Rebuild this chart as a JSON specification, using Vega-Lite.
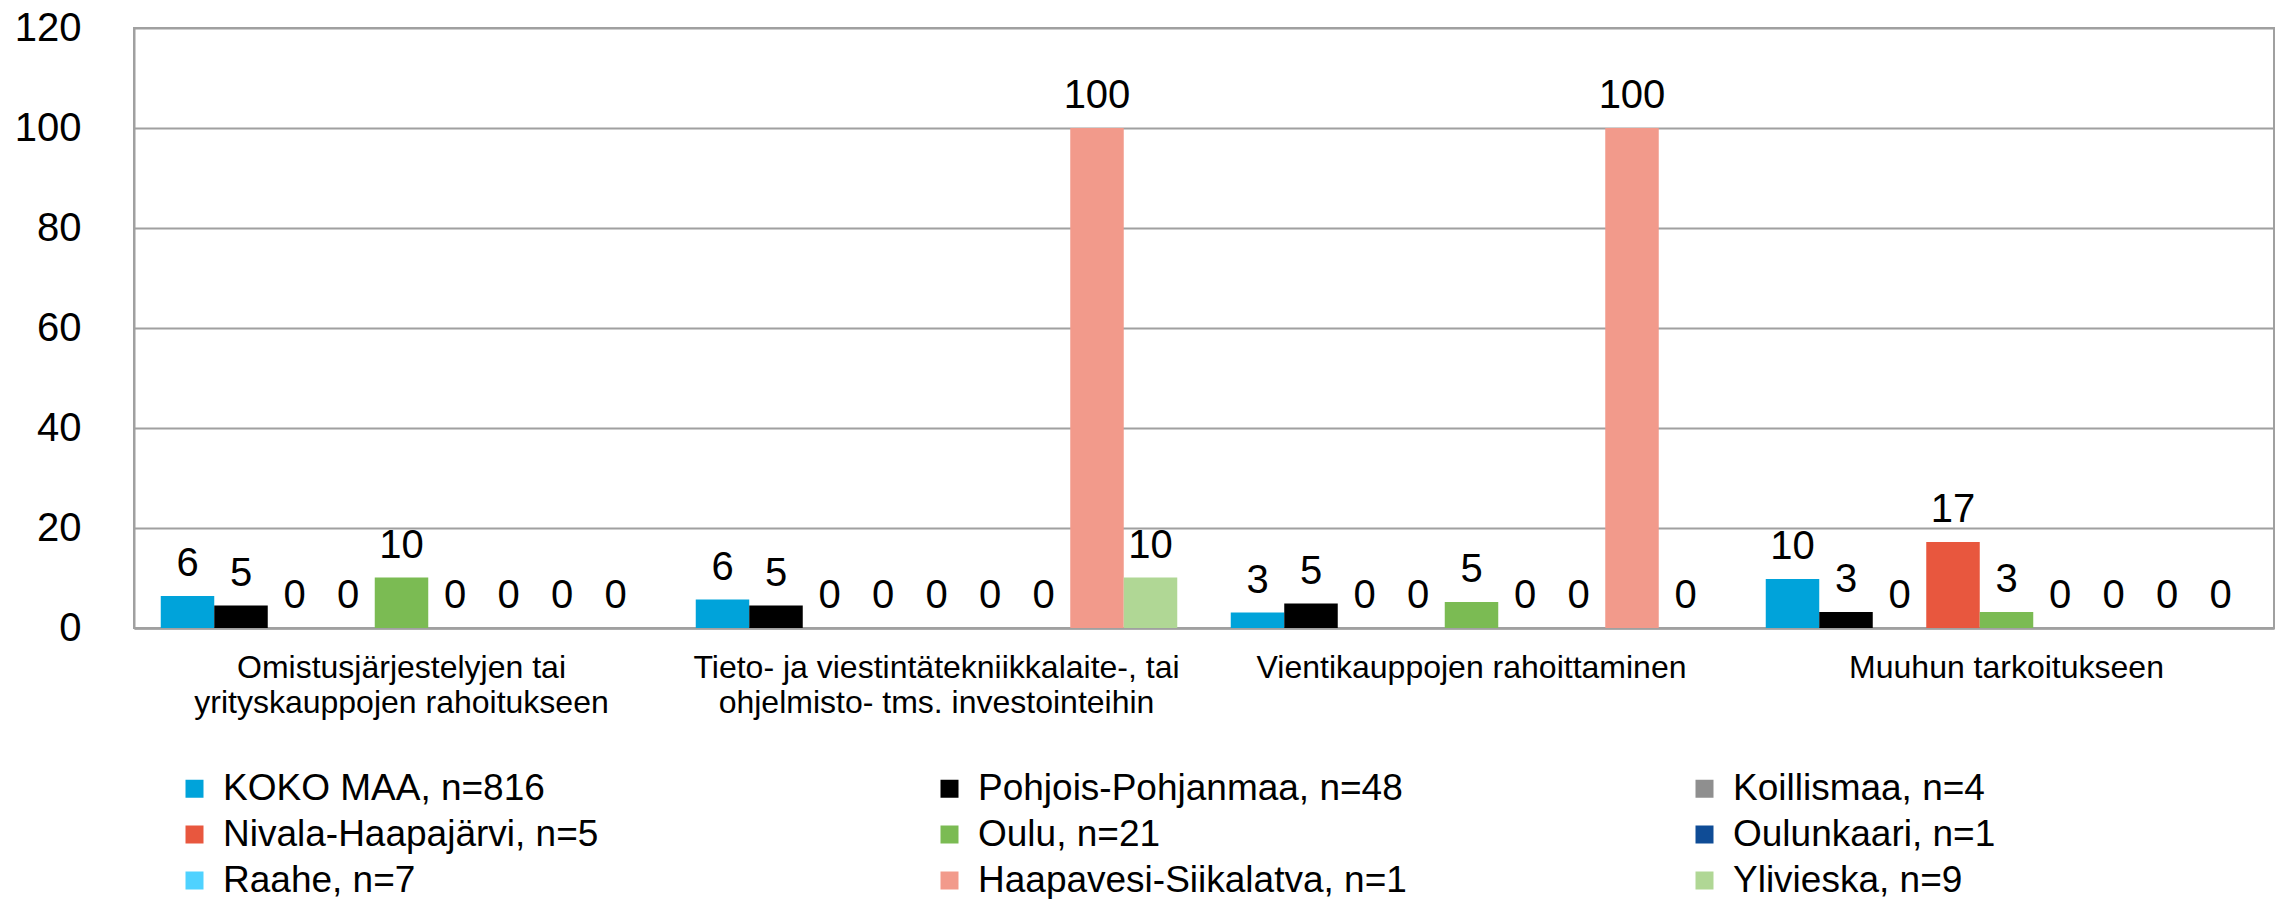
{
  "$schema": "https://vega.github.io/schema/vega-lite/v6.json",
  "width": 2140,
  "height": 600,
  "autosize": {"type": "none"},
  "padding": {"left": 134, "top": 28, "right": 9, "bottom": 271},
  "background": "white",
  "config": {
    "font": "Liberation Sans",
    "view": {"stroke": "#A0A0A0", "strokeWidth": 2}
  },
  "data": {
    "values": [
      {"category": "Omistusjärjestelyjen tai|yrityskauppojen rahoitukseen", "series": "KOKO MAA, n=816", "value": 6.4},
      {"category": "Omistusjärjestelyjen tai|yrityskauppojen rahoitukseen", "series": "Pohjois-Pohjanmaa, n=48", "value": 4.5},
      {"category": "Omistusjärjestelyjen tai|yrityskauppojen rahoitukseen", "series": "Koillismaa, n=4", "value": 0},
      {"category": "Omistusjärjestelyjen tai|yrityskauppojen rahoitukseen", "series": "Nivala-Haapajärvi, n=5", "value": 0},
      {"category": "Omistusjärjestelyjen tai|yrityskauppojen rahoitukseen", "series": "Oulu, n=21", "value": 10.1},
      {"category": "Omistusjärjestelyjen tai|yrityskauppojen rahoitukseen", "series": "Oulunkaari, n=1", "value": 0},
      {"category": "Omistusjärjestelyjen tai|yrityskauppojen rahoitukseen", "series": "Raahe, n=7", "value": 0},
      {"category": "Omistusjärjestelyjen tai|yrityskauppojen rahoitukseen", "series": "Haapavesi-Siikalatva, n=1", "value": 0},
      {"category": "Omistusjärjestelyjen tai|yrityskauppojen rahoitukseen", "series": "Ylivieska, n=9", "value": 0},
      {"category": "Tieto- ja viestintätekniikkalaite-, tai|ohjelmisto- tms. investointeihin", "series": "KOKO MAA, n=816", "value": 5.7},
      {"category": "Tieto- ja viestintätekniikkalaite-, tai|ohjelmisto- tms. investointeihin", "series": "Pohjois-Pohjanmaa, n=48", "value": 4.5},
      {"category": "Tieto- ja viestintätekniikkalaite-, tai|ohjelmisto- tms. investointeihin", "series": "Koillismaa, n=4", "value": 0},
      {"category": "Tieto- ja viestintätekniikkalaite-, tai|ohjelmisto- tms. investointeihin", "series": "Nivala-Haapajärvi, n=5", "value": 0},
      {"category": "Tieto- ja viestintätekniikkalaite-, tai|ohjelmisto- tms. investointeihin", "series": "Oulu, n=21", "value": 0},
      {"category": "Tieto- ja viestintätekniikkalaite-, tai|ohjelmisto- tms. investointeihin", "series": "Oulunkaari, n=1", "value": 0},
      {"category": "Tieto- ja viestintätekniikkalaite-, tai|ohjelmisto- tms. investointeihin", "series": "Raahe, n=7", "value": 0},
      {"category": "Tieto- ja viestintätekniikkalaite-, tai|ohjelmisto- tms. investointeihin", "series": "Haapavesi-Siikalatva, n=1", "value": 100},
      {"category": "Tieto- ja viestintätekniikkalaite-, tai|ohjelmisto- tms. investointeihin", "series": "Ylivieska, n=9", "value": 10.1},
      {"category": "Vientikauppojen rahoittaminen", "series": "KOKO MAA, n=816", "value": 3.1},
      {"category": "Vientikauppojen rahoittaminen", "series": "Pohjois-Pohjanmaa, n=48", "value": 4.9},
      {"category": "Vientikauppojen rahoittaminen", "series": "Koillismaa, n=4", "value": 0},
      {"category": "Vientikauppojen rahoittaminen", "series": "Nivala-Haapajärvi, n=5", "value": 0},
      {"category": "Vientikauppojen rahoittaminen", "series": "Oulu, n=21", "value": 5.2},
      {"category": "Vientikauppojen rahoittaminen", "series": "Oulunkaari, n=1", "value": 0},
      {"category": "Vientikauppojen rahoittaminen", "series": "Raahe, n=7", "value": 0},
      {"category": "Vientikauppojen rahoittaminen", "series": "Haapavesi-Siikalatva, n=1", "value": 100},
      {"category": "Vientikauppojen rahoittaminen", "series": "Ylivieska, n=9", "value": 0},
      {"category": "Muuhun tarkoitukseen", "series": "KOKO MAA, n=816", "value": 9.8},
      {"category": "Muuhun tarkoitukseen", "series": "Pohjois-Pohjanmaa, n=48", "value": 3.2},
      {"category": "Muuhun tarkoitukseen", "series": "Koillismaa, n=4", "value": 0},
      {"category": "Muuhun tarkoitukseen", "series": "Nivala-Haapajärvi, n=5", "value": 17.2},
      {"category": "Muuhun tarkoitukseen", "series": "Oulu, n=21", "value": 3.2},
      {"category": "Muuhun tarkoitukseen", "series": "Oulunkaari, n=1", "value": 0},
      {"category": "Muuhun tarkoitukseen", "series": "Raahe, n=7", "value": 0},
      {"category": "Muuhun tarkoitukseen", "series": "Haapavesi-Siikalatva, n=1", "value": 0},
      {"category": "Muuhun tarkoitukseen", "series": "Ylivieska, n=9", "value": 0}
    ]
  },
  "encoding": {
    "x": {
      "field": "category",
      "type": "nominal",
      "sort": null,
      "scale": {"paddingInner": 0.1, "paddingOuter": 0.05},
      "axis": {
        "title": null,
        "labelAngle": 0,
        "labelFontSize": 32,
        "labelColor": "#000000",
        "labelExpr": "split(datum.label, '|')",
        "labelLineHeight": 35,
        "labelPadding": 24,
        "labelLimit": 0,
        "ticks": false,
        "domainColor": "#A0A0A0",
        "domainWidth": 2.5,
        "grid": false
      }
    },
    "xOffset": {
      "field": "series",
      "type": "nominal",
      "sort": ["KOKO MAA, n=816", "Pohjois-Pohjanmaa, n=48", "Koillismaa, n=4", "Nivala-Haapajärvi, n=5", "Oulu, n=21", "Oulunkaari, n=1", "Raahe, n=7", "Haapavesi-Siikalatva, n=1", "Ylivieska, n=9"],
      "scale": {"paddingInner": 0, "paddingOuter": 0}
    },
    "y": {
      "field": "value",
      "type": "quantitative",
      "stack": null,
      "scale": {"domain": [0, 120]},
      "axis": {
        "title": null,
        "values": [0, 20, 40, 60, 80, 100, 120],
        "labelFontSize": 40,
        "labelColor": "#000000",
        "labelPadding": 53,
        "ticks": false,
        "domainColor": "#A0A0A0",
        "domainWidth": 2,
        "gridColor": "#A0A0A0",
        "gridWidth": 2
      }
    }
  },
  "layer": [
    {
      "mark": {"type": "bar"},
      "encoding": {
        "color": {
          "field": "series",
          "type": "nominal",
          "sort": ["KOKO MAA, n=816", "Pohjois-Pohjanmaa, n=48", "Koillismaa, n=4", "Nivala-Haapajärvi, n=5", "Oulu, n=21", "Oulunkaari, n=1", "Raahe, n=7", "Haapavesi-Siikalatva, n=1", "Ylivieska, n=9"],
          "scale": {
            "domain": ["KOKO MAA, n=816", "Pohjois-Pohjanmaa, n=48", "Koillismaa, n=4", "Nivala-Haapajärvi, n=5", "Oulu, n=21", "Oulunkaari, n=1", "Raahe, n=7", "Haapavesi-Siikalatva, n=1", "Ylivieska, n=9"],
            "range": ["#00A3DA", "#000000", "#8F8F8F", "#E8573E", "#7BBB53", "#0F4C96", "#4FD2FF", "#F29A8B", "#B0D795"]
          },
          "legend": {
            "title": null,
            "orient": "none",
            "legendX": 42,
            "legendY": 742,
            "direction": "horizontal",
            "columns": 3,
            "gridAlign": "all",
            "columnPadding": 279,
            "rowPadding": 8,
            "symbolType": "square",
            "symbolSize": 324,
            "symbolStrokeWidth": 0,
            "labelFontSize": 37,
            "labelColor": "#000000",
            "labelOffset": 10,
            "labelLimit": 0
          }
        }
      }
    },
    {
      "mark": {"type": "text", "baseline": "alphabetic", "dy": -20, "fontSize": 40, "color": "#000000"},
      "encoding": {
        "text": {"field": "value", "type": "quantitative", "format": ".0f"}
      }
    }
  ]
}
